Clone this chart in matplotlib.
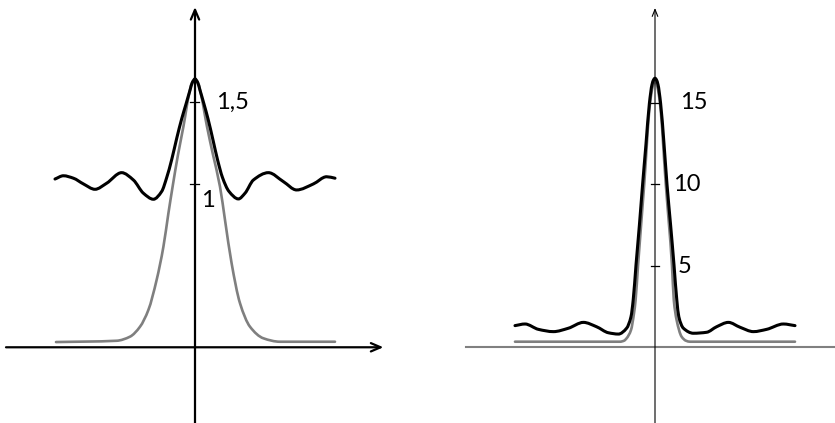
import numpy as np
import matplotlib.pyplot as plt
from matplotlib.path import Path
from matplotlib.patches import PathPatch

# left panel: values (x in arbitrary units)
left_black_x = [-7.0, -6.58, -6.08, -5.58, -5.0, -4.42, -3.67, -3.08, -2.58, -2.08,
                -1.665, -1.415, -1.165, -0.915, -0.665, -0.45, -0.25, -0.125, 0.0,
                0.125, 0.25, 0.45, 0.65, 0.9, 1.125, 1.375, 1.7, 2.17, 2.5, 2.92,
                3.67, 4.42, 5.08, 5.92, 6.58, 7.0]
left_black_y = [1.031, 1.051, 1.036, 1.001, 0.968, 1.005, 1.070, 1.025, 0.944, 0.907,
                0.955, 1.04, 1.15, 1.28, 1.40, 1.49, 1.575, 1.625, 1.644,
                1.625, 1.575, 1.49, 1.40, 1.27, 1.15, 1.04, 0.955, 0.909, 0.944, 1.025,
                1.070, 1.015, 0.964, 1.001, 1.045, 1.036]

left_gray_x = [-6.95, -3.92, -3.25, -2.75, -2.33, -1.92, -1.58, -1.33, -1.12, -0.85,
               -0.58, -0.30, -0.15, 0.0, 0.15, 0.30, 0.60, 0.90, 1.25, 1.50,
               1.83, 2.25, 2.75, 3.42, 4.25, 7.0]
left_gray_y = [0.032, 0.040, 0.065, 0.126, 0.229, 0.412, 0.616, 0.821, 0.984, 1.18,
               1.352, 1.55, 1.62, 1.638, 1.62, 1.55, 1.352, 1.18, 0.984, 0.780,
               0.515, 0.270, 0.126, 0.055, 0.034, 0.034]

left_ticks = [1, 1.5]
left_labels = ["1", "1,5"]

# right panel
right_black_x = [-7.0, -6.5, -5.83, -5.08, -4.33, -3.58, -2.92, -2.33, -1.83, -1.42,
                 -1.2, -1.09, -0.95, -0.78, -0.62, -0.45, -0.28, -0.15, -0.07, 0.0,
                 0.07, 0.15, 0.28, 0.45, 0.6, 0.78, 0.95, 1.09, 1.19, 1.42,
                 1.92, 2.58, 3.08, 3.67, 4.25, 4.92, 5.58, 6.42, 7.0]
right_black_y = [1.31, 1.41, 1.08, 0.94, 1.15, 1.51, 1.24, 0.87, 0.79, 1.15,
                 1.86, 2.89, 5.04, 7.5, 10.0, 12.5, 15.0, 16.15, 16.45, 16.54,
                 16.45, 16.15, 15.0, 12.5, 10.0, 7.5, 5.04, 2.89, 1.86, 1.15,
                 0.84, 0.90, 1.24, 1.51, 1.21, 0.94, 1.08, 1.41, 1.31]

right_gray_x = [-7.0, -1.75, -1.55, -1.42, -1.2, -1.05, -0.97, -0.85, -0.54, -0.25,
                -0.12, 0.0, 0.12, 0.25, 0.54, 0.85, 0.94, 1.08, 1.33, 1.55, 1.75, 7.0]
right_gray_y = [0.32, 0.32, 0.38, 0.53, 1.04, 2.07, 2.89, 5.0, 10.0, 15.0,
                16.0, 16.4, 16.0, 15.0, 10.0, 5.0, 2.89, 1.66, 0.63, 0.38, 0.32, 0.32]

right_ticks = [5, 10, 15]
right_labels = ["5", "10", "15"]

gray = "#7f7f7f"
plt.rcParams["font.family"] = ["Lato", "DejaVu Sans"]


def smooth_line(ax, x, y, **kw):
    # draw the read points as one bezier path (pchip-like tangents), no new data points
    x = np.asarray(x, float)
    y = np.asarray(y, float)
    h = np.diff(x)
    d = np.diff(y) / h
    m = np.zeros_like(y)
    for i in range(1, len(y) - 1):
        if d[i - 1] * d[i] > 0:
            w1 = 2 * h[i] + h[i - 1]
            w2 = h[i] + 2 * h[i - 1]
            m[i] = (w1 + w2) / (w1 / d[i - 1] + w2 / d[i])
    m[0] = d[0]
    m[-1] = d[-1]
    verts = [(x[0], y[0])]
    codes = [Path.MOVETO]
    for i in range(len(x) - 1):
        verts += [(x[i] + h[i] / 3, y[i] + m[i] * h[i] / 3),
                  (x[i + 1] - h[i] / 3, y[i + 1] - m[i + 1] * h[i] / 3),
                  (x[i + 1], y[i + 1])]
        codes += [Path.CURVE4] * 3
    ax.add_patch(PathPatch(Path(verts, codes), fill=False, capstyle="round", **kw))


fig = plt.figure(figsize=(8.35, 4.23), dpi=100)

# left panel
ax1 = fig.add_axes([0, 0, 417 / 835, 1])
ax1.set_xlim(-9.75, 11.1)
ax1.set_ylim(-0.464, 2.128)
ax1.axis("off")
ax1.annotate("", xy=(9.42, 0), xytext=(-9.45, 0),
             arrowprops=dict(arrowstyle="->,head_length=0.7,head_width=0.3",
                             lw=1.6, color="black", shrinkA=0, shrinkB=0))
ax1.annotate("", xy=(0, 2.085), xytext=(0, -0.47),
             arrowprops=dict(arrowstyle="->,head_length=0.7,head_width=0.3",
                             lw=1.6, color="black", shrinkA=0, shrinkB=0))
for t in left_ticks:
    ax1.plot([-0.25, 0.22], [t, t], color="black", lw=0.9)
ax1.text(0.3, 0.9, left_labels[0], fontsize=17, ha="left", va="center")
ax1.text(1.05, 1.5, left_labels[1], fontsize=17, ha="left", va="center")
smooth_line(ax1, left_gray_x, left_gray_y, edgecolor=gray, lw=1.9)
smooth_line(ax1, left_black_x, left_black_y, edgecolor="black", lw=2.2)

# right panel
ax2 = fig.add_axes([417 / 835, 0, 418 / 835, 1])
ax2.set_xlim(-11.9, 9.0)
ax2.set_ylim(-4.686, 21.36)
ax2.axis("off")
ax2.plot([-9.45, 9.0], [0, 0], color="#808080", lw=1.5, clip_on=False)
ax2.annotate("", xy=(0, 20.87), xytext=(0, -4.8),
             arrowprops=dict(arrowstyle="->,head_length=0.5,head_width=0.2",
                             lw=0.8, color="black", shrinkA=0, shrinkB=0))
for t in right_ticks:
    ax2.plot([-0.21, 0.2], [t, t], color="black", lw=0.9)
ax2.text(1.15, 4.98, right_labels[0], fontsize=17, ha="left", va="center")
ax2.text(0.9, 10.0, right_labels[1], fontsize=17, ha="left", va="center")
ax2.text(1.25, 15.04, right_labels[2], fontsize=17, ha="left", va="center")
smooth_line(ax2, right_gray_x, right_gray_y, edgecolor=gray, lw=1.9)
smooth_line(ax2, right_black_x, right_black_y, edgecolor="black", lw=2.2)

fig.savefig("out.png", dpi=100)
